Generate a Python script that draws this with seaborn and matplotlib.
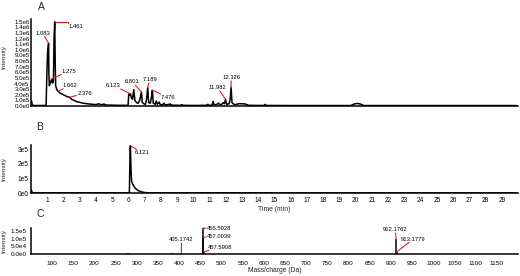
import math
import seaborn as sns
import matplotlib.pyplot as plt
from matplotlib.ticker import FuncFormatter

# ---- data ----
# A: total ion chromatogram (time min, intensity)
tic_time = [0.00, 0.03, 0.07, 0.12, 0.50, 0.93, 0.98, 1.02, 1.083, 1.10, 1.13, 1.20, 1.275, 1.32,
            1.38, 1.42, 1.461, 1.49, 1.52, 1.58, 1.662, 1.80, 2.00, 2.20, 2.376, 2.50, 2.80, 3.20,
            3.60, 4.00, 4.20, 4.30, 4.50, 4.60, 5.00, 5.50, 5.98, 6.02, 6.08, 6.123, 6.18, 6.25,
            6.33, 6.40, 6.50, 6.60, 6.70, 6.801, 6.86, 6.95, 7.05, 7.12, 7.189, 7.25, 7.35, 7.42,
            7.476, 7.53, 7.65, 7.72, 7.78, 7.90, 7.96, 8.10, 8.20, 8.26, 8.60, 8.66, 9.20, 9.30,
            9.36, 10.00, 10.80, 10.90, 10.95, 11.15, 11.22, 11.28, 11.45, 11.55, 11.62, 11.75,
            11.85, 11.92, 11.982, 12.05, 12.20, 12.27, 12.326, 12.38, 12.50, 12.60, 12.80, 13.00,
            13.20, 13.40, 14.00, 14.38, 14.42, 14.48, 16.00, 19.70, 19.90, 20.10, 20.30, 20.50,
            29.90]
tic_int = [1.0e4, 9.0e4, 3.0e4, 1.0e4, 8.0e3, 1.0e4, 6.0e5, 9.5e5, 1.12e6, 6.0e5, 3.6e5, 4.2e5,
           4.8e5, 4.1e5, 4.3e5, 1.2e6, 1.50e6, 8.0e5, 3.6e5, 3.0e5, 2.6e5, 2.3e5, 2.0e5, 1.7e5,
           1.55e5, 1.2e5, 8.0e4, 5.0e4, 3.5e4, 2.5e4, 4.0e4, 2.0e4, 3.5e4, 1.8e4, 1.5e4, 1.2e4,
           1.2e4, 2.1e5, 1.9e5, 2.2e5, 1.5e5, 1.2e5, 2.9e5, 1.0e5, 6.0e4, 5.0e4, 1.0e5, 2.5e5,
           6.0e4, 4.0e4, 3.0e4, 1.2e5, 3.3e5, 6.0e4, 5.0e4, 1.5e5, 2.8e5, 5.0e4, 3.0e4, 9.0e4,
           3.0e4, 7.0e4, 2.5e4, 2.0e4, 5.0e4, 1.8e4, 3.5e4, 1.5e4, 1.2e4, 2.5e4, 1.2e4, 1.0e4,
           1.2e4, 3.0e4, 1.2e4, 1.5e4, 8.0e4, 2.0e4, 3.0e4, 5.0e4, 2.5e4, 3.0e4, 6.0e4, 4.0e4,
           1.2e5, 3.0e4, 4.0e4, 1.2e5, 3.3e5, 6.0e4, 3.0e4, 2.5e4, 4.0e4, 4.0e4, 3.5e4, 1.2e4,
           1.0e4, 1.0e4, 3.0e4, 1.0e4, 8.0e3, 8.0e3, 3.5e4, 4.5e4, 3.5e4, 8.0e3, 8.0e3]
tic_labels = ["1.083", "1.461", "1.275", "1.662", "2.376", "6.123", "6.801", "7.189", "7.476",
              "11.982", "12.326"]
tic_label_int = [1.12e6, 1.50e6, 4.8e5, 2.6e5, 1.55e5, 2.2e5, 2.5e5, 3.3e5, 2.8e5, 1.2e5, 3.3e5]

# B: extracted ion chromatogram
eic_time = [0.00, 0.02, 0.06, 0.10, 6.00, 6.06, 6.09, 6.121, 6.16, 6.20, 6.25, 6.32, 6.40, 6.50,
            6.60, 6.75, 6.90, 7.10, 7.40, 29.90]
eic_int = [5.0e3, 2.0e4, 8.0e3, 1.0e3, 1.0e3, 5.0e3, 2.0e5, 3.25e5, 1.6e5, 8.0e4, 6.5e4, 5.0e4,
           3.5e4, 2.5e4, 1.7e4, 1.0e4, 5.0e3, 2.0e3, 1.0e3, 1.0e3]
eic_label = "6.121"

# C: mass spectrum (m/z, intensity)
ms_mz = [152.0, 279.2, 383.5, 405.1742, 456.5928, 457.0939, 457.5908, 470.0, 480.0, 612.0,
         912.1762, 913.1779, 930.0]
ms_int = [2.0e3, 5.0e3, 6.0e3, 8.0e3, 1.7e5, 1.1e5, 1.3e4, 3.0e3, 2.5e3, 2.0e3,
          1.0e5, 1.3e4, 2.0e3]
ms_labels = ["405.1742", "456.5928", "457.0939", "457.5908", "912.1762", "913.1779"]

# label offsets (pixels, text centre relative to peak top)
tic_offsets = [(-6, 10), (21, -5), (17, 8), (12, 6), (15, 4), (-17, 8), (-9, 10), (2, 8),
               (16, -7), (-8, 12), (0, 10)]
eic_offset = (12, -7)
ms_offsets = [(0, 13), (16, -1), (16, 1), (16, 5), (-1, 9), (17, 13)]

RED = "#d2232a"

sns.set_theme(style="white")
plt.rcParams["font.family"] = ["Liberation Sans", "DejaVu Sans"]
plt.rcParams["axes.linewidth"] = 1.1
plt.rcParams["axes.edgecolor"] = "black"


def sci(v, nd):
    if v == 0:
        return f"{0:.{nd}f}e0"
    e = int(math.floor(math.log10(abs(v)) + 1e-9))
    return f"{v / 10 ** e:.{nd}f}e{e}"


def style(ax, fs):
    sns.despine(ax=ax)
    ax.tick_params(length=0, labelsize=fs, colors="black")


def label_peaks(ax, xs, ys, texts, offsets, elbow=()):
    for x, y, t, (dx, dy) in zip(xs, ys, texts, offsets):
        props = dict(arrowstyle="-", color=RED, lw=0.8, shrinkA=0, shrinkB=0)
        if t in elbow:
            props.update(connectionstyle="angle,angleA=90,angleB=0,rad=0", relpos=(0.0, 1.0))
        ax.annotate(t, xy=(x, y), xytext=(dx, dy), textcoords="offset pixels",
                    ha="center", va="center", fontsize=4.2, color="black",
                    bbox=dict(boxstyle="square,pad=0.15", fc="none", ec="none"),
                    arrowprops=props, annotation_clip=False)


fig = plt.figure(figsize=(5.2, 2.76), dpi=100)
W, H = 520, 276


def add_axes(x0, x1, ytop, ybot):
    return fig.add_axes([x0 / W, 1 - ybot / H, (x1 - x0) / W, (ybot - ytop) / H])


# ---- A ----
axA = add_axes(31, 518, 19, 106)
sns.lineplot(x=tic_time, y=tic_int, ax=axA, color="black", lw=1.1, sort=False, estimator=None)
axA.set_xlim(0, 30)
axA.set_ylim(0, 1.55e6)
axA.set_yticks([i * 1e5 for i in range(16)])
axA.yaxis.set_major_formatter(FuncFormatter(lambda v, p: sci(v, 1)))
axA.set_xticks([])
style(axA, 4.4)
axA.tick_params(axis="y", pad=1)
tic_label_t = [float(t) for t in tic_labels]
label_peaks(axA, tic_label_t, tic_label_int, tic_labels, tic_offsets, elbow=("1.461",))
axA.set_ylabel("Intensity", fontsize=4.6)
axA.yaxis.set_label_coords(-0.05, 0.56)
axA.set_xlabel("")

# ---- B ----
axB = add_axes(31, 518, 145, 193)
sns.lineplot(x=eic_time, y=eic_int, ax=axB, color="black", lw=1.1, sort=False, estimator=None)
axB.set_xlim(0, 30)
axB.set_ylim(0, 3.3e5)
axB.set_yticks([0, 1e5, 2e5, 3e5])
axB.yaxis.set_major_formatter(FuncFormatter(lambda v, p: sci(v, 0)))
axB.set_xticks(range(1, 30))
style(axB, 4.7)
axB.tick_params(axis="y", pad=2)
axB.tick_params(axis="x", pad=3)
label_peaks(axB, [float(eic_label)], [max(eic_int)], [eic_label], [eic_offset])
axB.set_xlabel("Time (min)", fontsize=4.9, labelpad=1)
axB.set_ylabel("Intensity", fontsize=4.6)
axB.yaxis.set_label_coords(-0.05, 0.5)

# ---- C ----
axC = add_axes(31, 518, 228, 254)
axC.vlines(ms_mz, 0, ms_int, color="black", lw=1.1)
axC.set_xlim(50, 1200)
axC.set_ylim(0, 1.7e5)
axC.set_yticks([0, 5e4, 1e5, 1.5e5])
axC.yaxis.set_major_formatter(FuncFormatter(lambda v, p: sci(v, 1)))
axC.set_xticks(range(100, 1200, 50))
style(axC, 4.6)
axC.tick_params(axis="y", pad=3)
axC.tick_params(axis="x", pad=5)
ms_lab_mz = [float(t) for t in ms_labels]
ms_lab_int = [ms_int[ms_mz.index(m)] for m in ms_lab_mz]
label_peaks(axC, ms_lab_mz, ms_lab_int, ms_labels, ms_offsets)
axC.set_xlabel("Mass/charge (Da)", fontsize=4.9, labelpad=1)
axC.set_ylabel("Intensity", fontsize=4.6)
axC.yaxis.set_label_coords(-0.05, 0.5)

for letter, (px, py) in zip("ABC", [(41, 7), (40, 127), (40, 214)]):
    fig.text(px / W, 1 - py / H, letter, ha="center", va="center", fontsize=7.5)

fig.savefig("out.png", dpi=100)
